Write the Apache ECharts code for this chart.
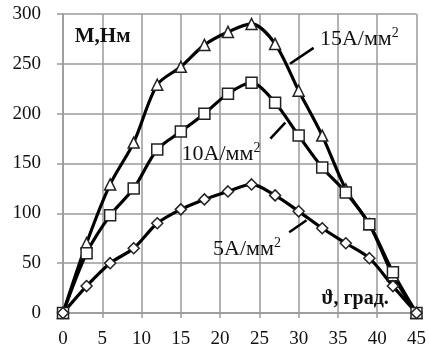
<!DOCTYPE html>
<html>
<head>
<meta charset="utf-8">
<script src="https://cdn.jsdelivr.net/npm/echarts@6/dist/echarts.min.js"></script>
<style>
  html, body { margin: 0; padding: 0; background: #fff; }
  #chart { width: 429px; height: 354px; }
</style>
</head>
<body>
<div id="chart"></div>
<script>
// angle, degrees
const angles = [0, 3, 6, 9, 12, 15, 18, 21, 24, 27, 30, 33, 36, 39, 42, 45];
// torque, N*m
const m15 = [0, 70, 129, 171, 229, 247, 269, 282, 290, 270, 223, 178, 124, 89, 38, 0];
const m10 = [0, 60, 98, 125, 164, 182, 200, 220, 231, 211, 178, 146, 121, 89, 41, 0];
const m5 = [0, 27, 50, 65, 90, 104, 114, 122, 129, 118, 102, 85, 70, 55, 27, 0];
const xTicks = [0, 5, 10, 15, 20, 25, 30, 35, 40, 45];
const yTicks = [0, 50, 100, 150, 200, 250, 300];

const FONT = '"Liberation Serif", "DejaVu Serif", serif';

const pairs = (ys) => angles.map((x, i) => [x, ys[i]]);

const leader = (a, b) => ({
  silent: true,
  symbol: 'none',
  label: { show: false },
  lineStyle: { color: '#000', width: 2.5, type: 'solid' },
  data: [[{ coord: a }, { coord: b }]]
});

const lineSeries = (name, ys, symbol, size, lead) => ({
  name: name,
  type: 'line',
  data: pairs(ys),
  smooth: 0.3,
  symbol: symbol,
  symbolSize: size,
  showAllSymbol: true,
  lineStyle: { color: '#000', width: 3.2 },
  itemStyle: { color: '#fff', borderColor: '#222', borderWidth: 1.5 },
  markLine: leader(lead[0], lead[1]),
  z: 3
});

var chart = echarts.init(document.getElementById('chart'));
const option = {
  animation: false,
  grid: { left: 63, right: 8, top: 14, bottom: 41 },
  xAxis: {
    type: 'value',
    min: 0,
    max: 45,
    interval: 5,
    axisLine: { lineStyle: { color: '#999', width: 1.5 } },
    axisTick: { show: true, length: 5, lineStyle: { color: '#999', width: 1.5 } },
    axisLabel: {
      margin: 17,
      color: '#111',
      fontSize: 19,
      fontFamily: FONT,
      formatter: (v) => xTicks.includes(v) ? String(v) : ''
    },
    splitLine: { lineStyle: { color: '#9a9a9a', width: 1.5 } }
  },
  yAxis: {
    type: 'value',
    min: 0,
    max: 300,
    interval: 50,
    axisLine: { show: true, lineStyle: { color: '#999', width: 1.5 } },
    axisTick: { show: true, length: 6, lineStyle: { color: '#999', width: 1.5 } },
    axisLabel: {
      margin: 22,
      color: '#111',
      fontSize: 19,
      fontFamily: FONT,
      formatter: (v) => yTicks.includes(v) ? String(v) : ''
    },
    splitLine: { lineStyle: { color: '#9a9a9a', width: 1.5 } }
  },
  series: [
    lineSeries('15A', m15, 'triangle', 11, [[31.9, 266], [28.9, 250]]),
    lineSeries('10A', m10, 'rect', 11, [[28.3, 191], [26.4, 175]]),
    lineSeries('5A', m5, 'diamond', 11, [[31.0, 93], [28.8, 81]])
  ]
};
chart.setOption(option);

// text notes, placed in data coordinates
const notes = [
  { at: [1.5, 277], text: 'М,Нм', bold: true, size: 21 },
  { at: [32.7, 276], text: '{n|15A/мм}{s|2}', size: 22 },
  { at: [15.1, 160], text: '{n|10A/мм}{s|2}', size: 22 },
  { at: [19.1, 65], text: '{n|5A/мм}{s|2}', size: 22 },
  { at: [32.9, 14], text: 'ϑ, град.', bold: true, size: 20 }
];

chart.setOption({
  graphic: notes.map((n) => {
    const p = chart.convertToPixel({ gridIndex: 0 }, n.at);
    return {
      type: 'text',
      x: p[0],
      y: p[1],
      z: 10,
      style: {
        text: n.text,
        fill: '#111',
        fontFamily: FONT,
        fontSize: n.size,
        fontWeight: n.bold ? 'bold' : 'normal',
        verticalAlign: 'middle',
        rich: {
          n: { fontSize: n.size, fontFamily: FONT, fill: '#111', lineHeight: 24, verticalAlign: 'bottom' },
          s: { fontSize: 14, fontFamily: FONT, fill: '#111', lineHeight: 12, verticalAlign: 'top' }
        }
      }
    };
  })
});
</script>
</body>
</html>
